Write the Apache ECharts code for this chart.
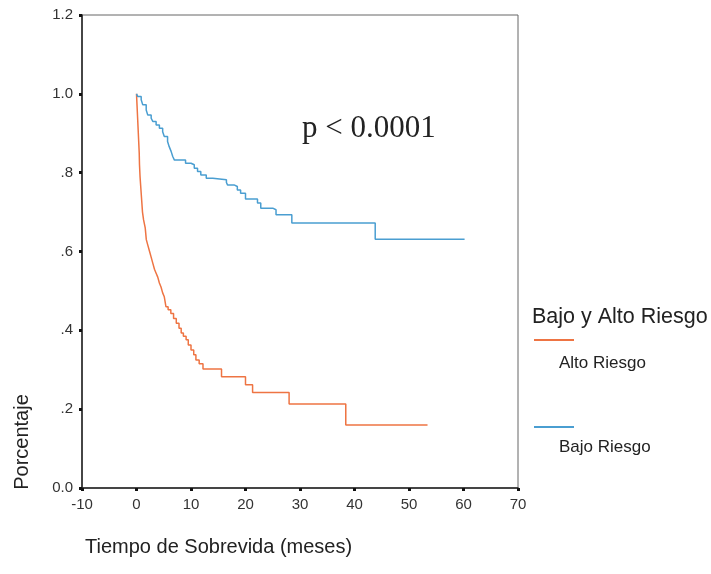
<!DOCTYPE html>
<html>
<head>
<meta charset="utf-8">
<script src="https://cdn.jsdelivr.net/npm/echarts@6/dist/echarts.min.js"></script>
<style>html,body{margin:0;padding:0;background:#fff;}#c{width:711px;height:574px;}</style>
</head>
<body>
<div id="c"></div>
<script>
// Kaplan-Meier curves: [time (months), survival proportion]
const altoRiesgo = [[0,1.0],[0.1,0.97],[0.2,0.94],[0.3,0.91],[0.4,0.88],[0.5,0.85],[0.55,0.82],[0.65,0.79],[0.8,0.76],[0.95,0.73],[1.1,0.70],[1.3,0.68],[1.6,0.66],[1.8,0.63],[2.1,0.615],[2.4,0.60],[2.7,0.585],[3.0,0.57],[3.3,0.555],[3.6,0.545],[3.9,0.535],[4.2,0.52],[4.5,0.51],[4.8,0.495],[5.1,0.485],[5.4,0.46],[5.8,0.452],[6.3,0.443],[6.8,0.43],[7.3,0.418],[7.8,0.405],[8.2,0.393],[8.6,0.385],[9.1,0.376],[9.5,0.363],[10.0,0.350],[10.5,0.338],[10.9,0.325],[11.5,0.315],[12.2,0.302],[15.6,0.282],[20.0,0.262],[21.3,0.242],[28.0,0.213],[38.4,0.160],[53.4,0.160]];
const bajoRiesgo = [[0,1.0],[0.24,0.993],[0.86,0.985],[1.15,0.972],[1.78,0.959],[2.07,0.946],[2.69,0.938],[2.99,0.930],[3.6,0.921],[4.2,0.913],[4.8,0.904],[5.1,0.892],[5.7,0.879],[6.0,0.866],[6.35,0.854],[6.65,0.841],[6.96,0.832],[9.0,0.824],[10.0,0.820],[10.6,0.811],[11.2,0.803],[11.8,0.794],[12.8,0.786],[14.0,0.782],[16.5,0.775],[16.7,0.769],[17.9,0.765],[18.5,0.756],[19.1,0.748],[20.0,0.733],[22.2,0.723],[22.8,0.710],[25.0,0.706],[25.6,0.693],[28.5,0.672],[43.8,0.631],[60.2,0.631]];
const yTickLabels = {'0':'0.0','0.2':'.2','0.4':'.4','0.6':'.6','0.8':'.8','1':'1.0','1.2':'1.2'};
const seriesNames = ['Alto Riesgo','Bajo Riesgo'];
const seriesColors = ['#ee7443','#4a9ed1'];
const legendTitle = 'Bajo y Alto Riesgo';
const pText = 'p < 0.0001';
const xName = 'Tiempo de Sobrevida (meses)';
const yName = 'Porcentaje';

const sans = '"Liberation Sans", Arial, sans-serif';
const chart = echarts.init(document.getElementById('c'), null, {renderer:'canvas'});
const labelFont = {fontFamily:sans, fontSize:15, color:'#333'};
function legendFor(i, top){
  return {orient:'vertical', left:529, top:top, itemWidth:40, itemHeight:2, itemGap:0,
    icon:'rect', data:[seriesNames[i]], formatter:function(){return '';},
    textStyle:{fontSize:1}};
}
chart.setOption({
  animation:false,
  backgroundColor:'#fff',
  grid:{left:82, right:193, top:15, bottom:86, show:true, borderColor:'#666', borderWidth:1},
  xAxis:{type:'value', min:-10, max:70, interval:10,
    axisLine:{show:true, onZero:false, lineStyle:{color:'#222', width:1.5}},
    axisTick:{show:true, length:3, lineStyle:{color:'#111', width:3}},
    splitLine:{show:false},
    axisLabel:Object.assign({margin:9}, labelFont)},
  yAxis:{type:'value', min:0, max:1.2, interval:0.2,
    axisLine:{show:true, onZero:false, lineStyle:{color:'#222', width:1.5}},
    axisTick:{show:true, length:3, lineStyle:{color:'#111', width:3}},
    splitLine:{show:false},
    axisLabel:Object.assign({margin:9, formatter:function(v){const k=String(Math.round(v*10)/10);return yTickLabels[k]!==undefined?yTickLabels[k]:v;}}, labelFont)},
  legend:[legendFor(0, 334), legendFor(1, 421)],
  series:[
    {name:seriesNames[0], type:'line', step:'end', data:altoRiesgo, showSymbol:false, symbol:'none',
      lineStyle:{color:seriesColors[0], width:1.5}, itemStyle:{color:seriesColors[0]}},
    {name:seriesNames[1], type:'line', step:'end', data:bajoRiesgo, showSymbol:false, symbol:'none',
      lineStyle:{color:seriesColors[1], width:1.5}, itemStyle:{color:seriesColors[1]}}
  ],
  graphic:[
    {type:'text', left:302, top:113, style:{text:pText, font:'31px "Liberation Serif", "Times New Roman", serif', fill:'#222'}},
    {type:'text', left:532, top:306, style:{text:legendTitle, font:'21.5px ' + sans, fill:'#222'}},
    {type:'text', left:559, top:355, style:{text:seriesNames[0], font:'17px ' + sans, fill:'#222'}},
    {type:'text', left:559, top:439, style:{text:seriesNames[1], font:'17px ' + sans, fill:'#222'}},
    {type:'text', left:85, top:537, style:{text:xName, font:'20px ' + sans, fill:'#222'}},
    {type:'text', x:22, y:442, rotation:Math.PI/2, style:{text:yName, font:'20px ' + sans, fill:'#222', align:'center', verticalAlign:'middle'}}
  ]
});
</script>
</body>
</html>
